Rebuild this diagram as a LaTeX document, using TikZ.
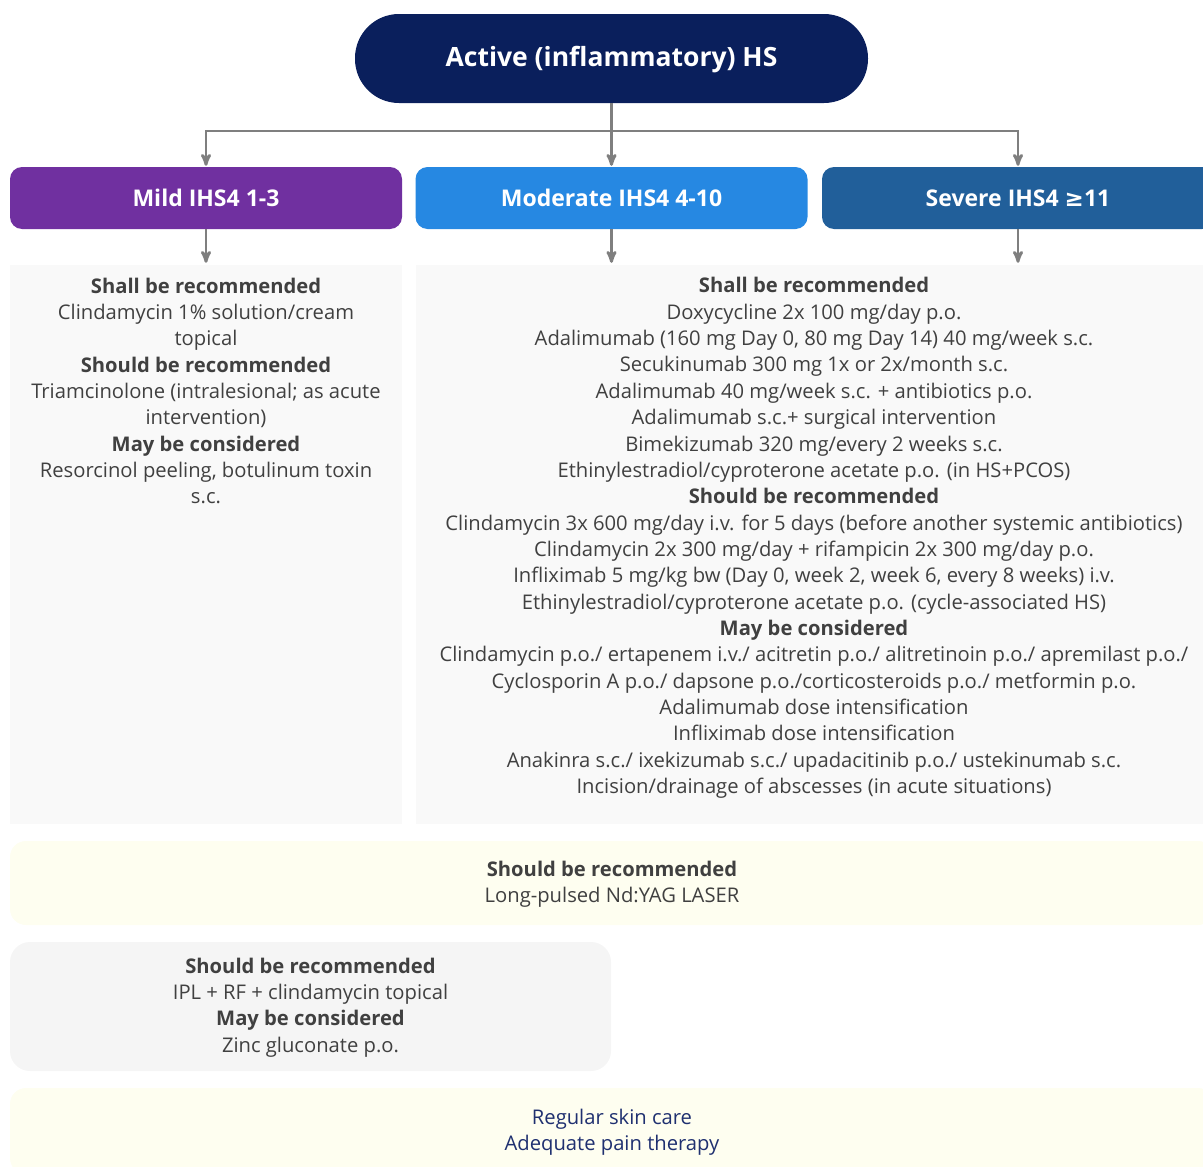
\documentclass[tikz,border=0pt]{standalone}
\usepackage{fontspec}
\setmainfont{Open Sans}
\newfontfamily\symfont{DejaVu Sans}
\usetikzlibrary{arrows,positioning}

\definecolor{navy}{HTML}{0A1F5C}
\definecolor{mildpurple}{HTML}{7030A0}
\definecolor{modblue}{HTML}{2688E2}
\definecolor{sevblue}{HTML}{215F9A}
\definecolor{linkgray}{HTML}{7F7F7F}
\definecolor{panelgray}{HTML}{F9F9F9}
\definecolor{boxgray}{HTML}{F5F5F5}
\definecolor{bandyellow}{HTML}{FEFEF0}
\definecolor{textgray}{HTML}{404040}
\definecolor{caretext}{HTML}{1F3070}

\tikzstyle{pill} = [rectangle, fill=navy, rounded corners=44pt, text=white,
    minimum width=513pt, minimum height=89pt, inner sep=0pt,
    font=\bfseries\fontsize{26.5}{30}\selectfont]
\tikzstyle{header} = [rectangle, rounded corners=12pt, text=white,
    minimum width=392pt, minimum height=62pt, inner sep=0pt,
    font=\bfseries\fontsize{23}{26}\selectfont]
\tikzstyle{panel} = [rectangle, fill=panelgray, minimum height=559pt, inner sep=0pt]
\tikzstyle{band} = [rectangle, fill=bandyellow, rounded corners=16pt,
    minimum width=1204pt, inner sep=0pt]
\tikzstyle{txt} = [align=center, text=textgray, inner sep=0pt,
    font=\fontsize{20.2}{26.35}\selectfont]
\tikzstyle{link} = [draw=linkgray, line width=2.8pt]

\begin{document}
\begin{tikzpicture}[x=1pt,y=-1pt,>=stealth',shorten >=1pt]
  \useasboundingbox (0,0) rectangle (1203,1167);

  % root and the three grades
  \node[pill] (active) at (611.5,58.5) {};
  \node[text=white,font=\bfseries\fontsize{26.5}{30}\selectfont] (activetx) at (611.5,60) {Active (inflammatory) HS};
  \node[header,fill=mildpurple] (mild)     at (206,198)    {Mild IHS4 1-3};
  \node[header,fill=modblue]    (moderate) at (611.5,198)  {Moderate IHS4 4-10};
  \node[header,fill=sevblue]    (severe)   at (1018,198)   {Severe IHS4 {\symfont\bfseries ≥}11};

  % treatment panels
  \node[panel,minimum width=392pt] (mildbox) at (206,544.5) {};
  \node[panel,minimum width=797pt] (modbox)  at (814.5,544.5) {};

  \node[txt] (mildtx) at (206,391) {\textbf{Shall be recommended}\\
    Clindamycin 1\% solution/cream\\
    topical\\
    \textbf{Should be recommended}\\
    Triamcinolone (intralesional; as acute\\
    intervention)\\
    \textbf{May be considered}\\
    Resorcinol peeling, botulinum toxin\\
    s.c.};

  \node[txt] (modtx) at (814,538) {\textbf{Shall be recommended}\\
    Doxycycline 2x 100 mg/day p.o.\\
    Adalimumab (160 mg Day 0, 80 mg Day 14) 40 mg/week s.c.\\
    Secukinumab 300 mg 1x or 2x/month s.c.\\
    Adalimumab 40 mg/week s.c. + antibiotics p.o.\\
    Adalimumab s.c.+ surgical intervention\\
    Bimekizumab 320 mg/every 2 weeks s.c.\\
    Ethinylestradiol/cyproterone acetate p.o. (in HS+PCOS)\\
    \textbf{Should be recommended}\\
    Clindamycin 3x 600 mg/day i.v. for 5 days (before another systemic antibiotics)\\
    Clindamycin 2x 300 mg/day + rifampicin 2x 300 mg/day p.o.\\
    Infliximab 5 mg/kg bw (Day 0, week 2, week 6, every 8 weeks) i.v.\\
    Ethinylestradiol/cyproterone acetate p.o. (cycle-associated HS)\\
    \textbf{May be considered}\\
    Clindamycin p.o./ ertapenem i.v./ acitretin p.o./ alitretinoin p.o./ apremilast p.o./\\
    Cyclosporin A p.o./ dapsone p.o./corticosteroids p.o./ metformin p.o.\\
    Adalimumab dose intensification\\
    Infliximab dose intensification\\
    Anakinra s.c./ ixekizumab s.c./ upadacitinib p.o./ ustekinumab s.c.\\
    Incision/drainage of abscesses (in acute situations)};

  % lower bands
  \node[band,minimum height=84pt] (laser) at (612,883) {};
  \node[txt] (lasertx) at (612,884) {\textbf{Should be recommended}\\
    Long-pulsed Nd:YAG LASER};

  \node[rectangle,fill=boxgray,rounded corners=20pt,minimum width=601pt,
        minimum height=129pt,inner sep=0pt] (ipl) at (310.5,1006.5) {};
  \node[txt] (ipltx) at (310.5,1007.5) {\textbf{Should be recommended}\\
    IPL + RF + clindamycin topical\\
    \textbf{May be considered}\\
    Zinc gluconate p.o.};

  \node[band,minimum height=86pt] (care) at (612,1131) {};
  \node[txt,text=caretext] (caretx) at (612,1132) {Regular skin care\\
    Adequate pain therapy};

  % connectors
  \coordinate (split) at (611.5,131);
  \draw[link]    (active) -- (split);
  \draw[link,->] (split) -| (mild);
  \draw[link,->] (split) -- (moderate);
  \draw[link,->] (split) -| (severe);
  \draw[link,->,shorten >=2pt] (mild) -- (mildbox);
  \draw[link,->,shorten >=2pt] (moderate.south) -- (moderate.south |- modbox.north);
  \draw[link,->,shorten >=2pt] (severe.south) -- (severe.south |- modbox.north);
\end{tikzpicture}
\end{document}
